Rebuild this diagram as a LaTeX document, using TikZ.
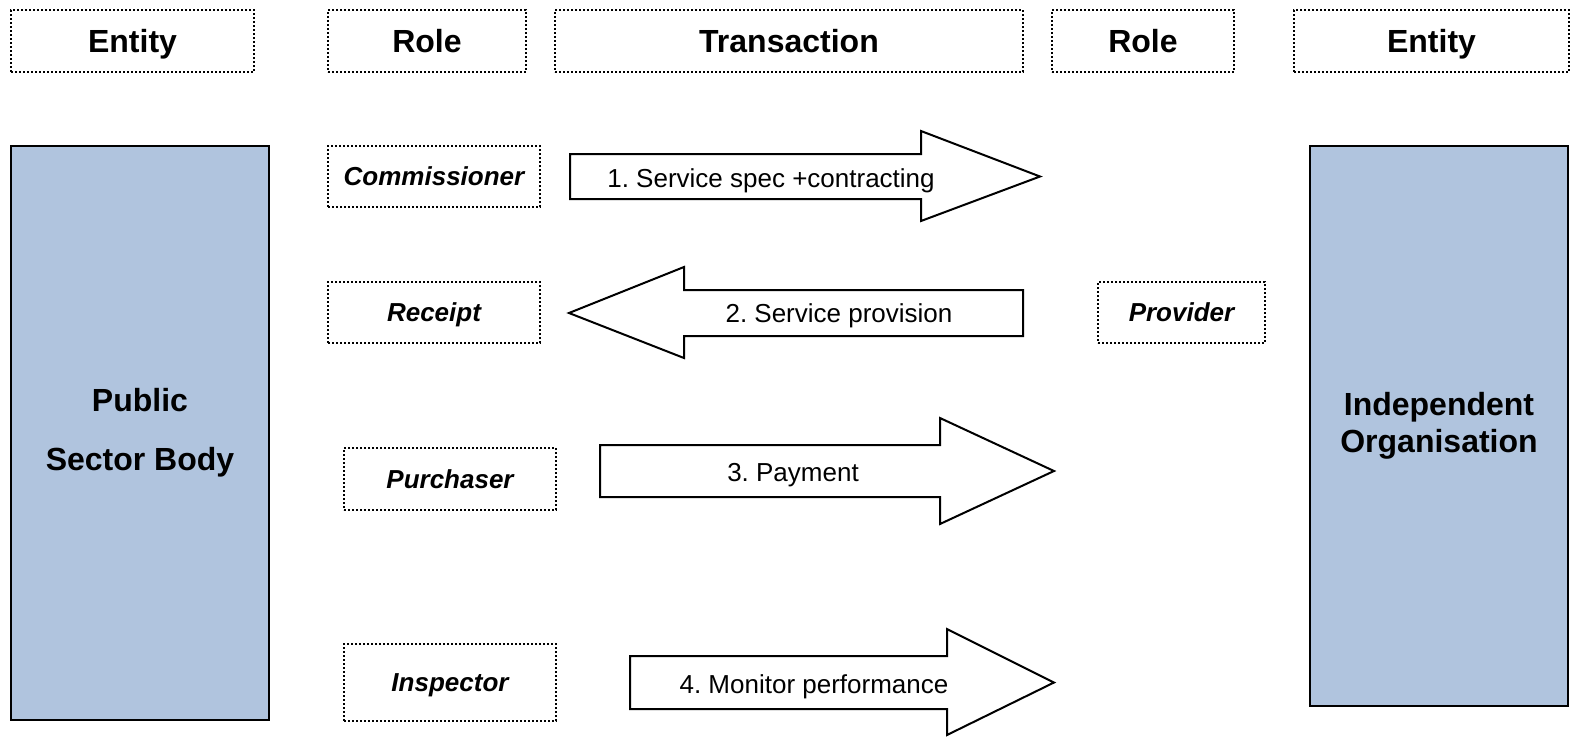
\documentclass[tikz,border=0pt]{standalone}
\usepackage{fontspec}
\setmainfont{Liberation Sans}
\usepackage{tikz}
\usetikzlibrary{positioning}
\definecolor{entityblue}{HTML}{B0C4DE}
\frenchspacing

\begin{document}
\begin{tikzpicture}[x=0.5pt, y=-0.5pt,
    dotline/.style={draw, line width=0.9pt, dash pattern=on 0.9pt off 1.1pt},
    headbox/.style={dotline, minimum height=31pt, text height=11.5pt, text depth=0pt, font=\fontsize{16}{19}\selectfont\bfseries},
    rolebox/.style={dotline, minimum width=106pt, minimum height=30.5pt, text height=9.4pt, text depth=0pt, font=\fontsize{13}{15}\selectfont\bfseries\itshape},
    entitybox/.style={draw, line width=1pt, fill=entityblue, minimum width=129pt, align=center, font=\fontsize{16}{18.5}\selectfont\bfseries},
    transarrow/.style={draw, line width=1pt, fill=white},
    translabel/.style={text height=9.4pt, text depth=0pt, font=\fontsize{13}{15}\selectfont}]
\useasboundingbox (0,0) rectangle (1571,736);
% header row
\node[headbox, minimum width=121.5pt] (hent1)  at (132.5,41) {Entity};
\node[headbox, minimum width=99pt]    (hrole1) at (427,41)   {Role};
\node[headbox, minimum width=234pt]   (htrans) at (789,41)   {Transaction};
\node[headbox, minimum width=91pt]    (hrole2) at (1143,41)  {Role};
\node[headbox, minimum width=137.5pt] (hent2)  at (1431.5,41) {Entity};
% entities
\node[entitybox, minimum height=287pt] (pub) at (140,433) {Public\\[11pt]Sector Body};
\node[entitybox, minimum height=280pt] (ind) at (1439,426) {Independent\\Organisation};
% roles
\node[rolebox] (comm)  at (434,176.5) {Commissioner};
\node[rolebox] (rec)   at (434,312.5) {Receipt};
\node[rolebox, minimum width=83.5pt] (prov) at (1181.5,312.5) {Provider};
\node[rolebox, minimum height=31pt] (purch) at (450,479) {Purchaser};
\node[rolebox, minimum height=38.5pt] (insp) at (450,682.5) {Inspector};
% transactions
\draw[transarrow] (570,154) -- (921,154) -- (921,131) -- (1040,176.5) -- (921,221) -- (921,199) -- (570,199) -- cycle;
\node[translabel] (t1) at (771,178) {1. Service spec +contracting};
\draw[transarrow] (1023,290) -- (684,290) -- (684,267) -- (569,313) -- (684,358) -- (684,336) -- (1023,336) -- cycle;
\node[translabel] (t2) at (839,313) {2. Service provision};
\draw[transarrow] (600,445) -- (940,445) -- (940,418) -- (1054,471) -- (940,524) -- (940,497) -- (600,497) -- cycle;
\node[translabel] (t3) at (793,472) {3. Payment};
\draw[transarrow] (630,656) -- (947,656) -- (947,629) -- (1054,682.5) -- (947,735) -- (947,709) -- (630,709) -- cycle;
\node[translabel] (t4) at (814,684) {4. Monitor performance};
\end{tikzpicture}
\end{document}
